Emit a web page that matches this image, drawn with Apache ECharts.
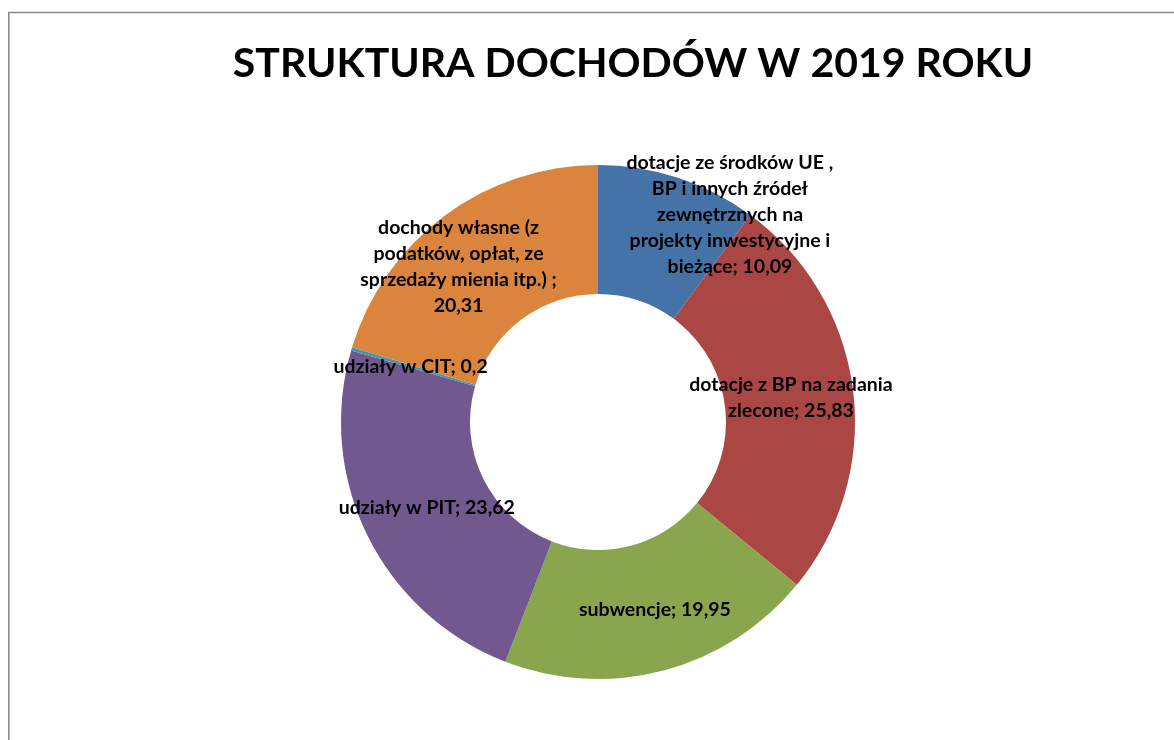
<!DOCTYPE html>
<html>
<head>
<meta charset="utf-8">
<script src="https://cdn.jsdelivr.net/npm/echarts@6/dist/echarts.min.js"></script>
<style>
  html, body { margin: 0; padding: 0; background: #fff; }
  #chart { width: 1174px; height: 740px; }
</style>
</head>
<body>
<div id="chart"></div>
<script>
// dane z wykresu
var categories = [
    'dotacje ze środków UE ,\nBP i innych źródeł\nzewnętrznych na\nprojekty inwestycyjne i\nbieżące',
    'dotacje z BP na zadania\nzlecone',
    'subwencje',
    'udziały w PIT',
    'udziały w CIT',
    'dochody własne (z\npodatków, opłat, ze\nsprzedaży mienia itp.) '
];
var values = [10.09, 25.83, 19.95, 23.62, 0.2, 20.31];
var colors = ['#4572A7', '#AA4643', '#89A54E', '#71588F', '#4198AF', '#DB843D'];
// przesunięcia etykiet (jak w excelu)
var labelShift = [[71, -22], [-1, 0], [7, -1], [4, -1], [0, 0], [-23, 2]];

var myChart = echarts.init(document.getElementById('chart'));

var data = [];
for (var i = 0; i < values.length; i++) {
    var nm = categories[i];
    var sep = (i == 5) ? ';\n' : '; ';
    data.push({
        value: values[i],
        name: nm,
        itemStyle: {color: colors[i]},
        label: {offset: labelShift[i], formatter: nm + sep + String(values[i]).replace('.', ',')}
    });
}

myChart.setOption({
    animation: false,
    title: {
        text: 'STRUKTURA DOCHODÓW W 2019 ROKU',
        left: 628,
        top: 38,
        textAlign: 'center',
        textStyle: {
            fontFamily: 'Lato',
            fontWeight: 'bold',
            fontSize: 41,
            color: '#000'
        }
    },
    graphic: [{
        type: 'polyline',
        shape: {points: [[8.8, 740], [8.8, 12.5], [1174, 12.5]]},
        style: {stroke: '#868686', lineWidth: 1.5, fill: null}
    }],
    series: [{
        type: 'pie',
        center: [598, 422],
        radius: [128, 257],
        startAngle: 90,
        clockwise: true,
        avoidLabelOverlap: false,
        itemStyle: {borderWidth: 0},
        label: {
            show: true,
            position: 'inside',
            color: '#000',
            fontFamily: 'Lato',
            fontWeight: 'bold',
            fontSize: 19.5,
            lineHeight: 26,
            align: 'center',
            textBorderWidth: 0
        },
        labelLine: {show: false},
        emphasis: {disabled: true},
        data: data
    }]
});
</script>
</body>
</html>
